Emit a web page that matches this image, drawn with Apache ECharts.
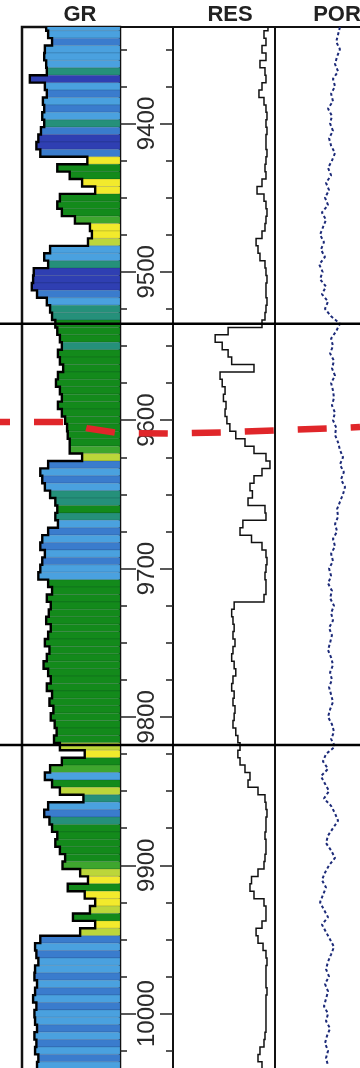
<!DOCTYPE html>
<html>
<head>
<meta charset="utf-8">
<script src="https://cdn.jsdelivr.net/npm/echarts@6.0.0/dist/echarts.min.js"></script>
<style>
  html, body, #main {
    width: 360px;
    height: 1068px;
    margin: 0;
    background: #fff;
  }
</style>
</head>
<body>
<div id="main"></div>
<script>
// log samples every 5 ft
var depthStart = 9335
var depthStep = 5
var depthMin = 9335
var depthMax = 10038

var grValues = [
  113, 110, 104, 115, 116, 113, 112, 138, 115, 112,
  118, 116, 119, 116, 121, 125, 128, 122, 50, 96,
  77, 58, 38, 92, 96, 89, 69, 46, 43, 49,
  107, 116, 110, 132, 133, 135, 127, 112, 107, 104,
  99, 96, 92, 89, 95, 92, 87, 95, 98, 92,
  89, 95, 89, 84, 81, 80, 77, 77, 58, 110,
  122, 119, 115, 107, 99, 96, 99, 95, 110, 119,
  122, 115, 119, 122, 125, 110, 104, 112, 106, 109,
  113, 106, 110, 115, 108, 112, 117, 110, 106, 112,
  104, 108, 102, 106, 100, 97, 101, 92, 54, 89,
  107, 115, 104, 92, 56, 110, 116, 108, 104, 96,
  99, 92, 84, 88, 61, 49, 80, 54, 38, 46,
  72, 38, 61, 122, 130, 128, 125, 130, 131, 127,
  130, 133, 128, 131, 130, 127, 131, 128, 130, 125,
  127
]

// fill colour class per sample: 0 dark blue, 1 blue, 2 light blue, 3 teal,
// 4 green, 5 light green, 6 yellow-green, 7 yellow
var grClass = [
  2, 2, 1, 2, 2, 2, 3, 0, 2, 1,
  2, 1, 2, 3, 1, 0, 0, 1, 7, 4,
  4, 7, 7, 4, 4, 4, 5, 7, 7, 6,
  2, 2, 3, 0, 0, 0, 1, 2, 3, 3,
  4, 4, 4, 3, 4, 4, 4, 4, 4, 4,
  4, 4, 4, 4, 4, 4, 4, 5, 6, 1,
  2, 1, 2, 3, 3, 4, 3, 2, 1, 2,
  1, 2, 1, 2, 2, 4, 4, 4, 4, 4,
  4, 4, 4, 4, 4, 4, 4, 4, 4, 4,
  4, 4, 4, 4, 4, 4, 4, 6, 7, 4,
  5, 2, 4, 6, 3, 2, 1, 3, 4, 4,
  4, 4, 4, 5, 6, 7, 4, 7, 7, 6,
  4, 7, 6, 1, 2, 1, 2, 2, 1, 2,
  1, 2, 1, 2, 2, 1, 2, 1, 2, 1,
  2
]
var classColors = ['#2f3fb2', '#3a7ccd', '#4aa1df', '#25907a', '#138a1b', '#3ea62e', '#bcd63a', '#f2ea2c']

var resValues = [
  1060, 740, 886, 618, 886, 515, 810, 886, 618, 470,
  740, 886, 970, 886, 970, 886, 886, 970, 886, 810,
  886, 618, 395, 740, 886, 970, 886, 810, 618, 362,
  431, 515, 810, 886, 970, 886, 886, 970, 886, 810,
  618, 29, 9, 17, 29, 40, 300, 14, 17, 22,
  19, 24, 22, 26, 34, 58, 133, 300, 886, 1270,
  618, 300, 209, 260, 175, 810, 886, 110, 85, 240,
  618, 886, 970, 886, 810, 886, 886, 740, 50, 40,
  45, 50, 45, 54, 45, 40, 50, 58, 45, 40,
  50, 45, 54, 50, 45, 58, 70, 85, 70, 85,
  133, 209, 175, 431, 810, 886, 970, 886, 886, 810,
  886, 886, 810, 740, 431, 240, 209, 300, 740, 886,
  886, 618, 362, 431, 680, 886, 970, 886, 886, 886,
  970, 886, 886, 886, 886, 886, 810, 740, 515, 431,
  618
]

var porValues = [
  0.068, 0.079, 0.09, 0.068, 0.085, 0.097, 0.079, 0.109, 0.097, 0.12,
  0.109, 0.138, 0.115, 0.126, 0.109, 0.132, 0.12, 0.097, 0.115, 0.138,
  0.12, 0.15, 0.132, 0.156, 0.138, 0.174, 0.15, 0.168, 0.185, 0.162,
  0.18, 0.156, 0.19, 0.17, 0.185, 0.15, 0.174, 0.138, 0.156, 0.12,
  0.068, 0.09, 0.12, 0.109, 0.126, 0.103, 0.115, 0.097, 0.12, 0.109,
  0.103, 0.115, 0.097, 0.109, 0.09, 0.097, 0.079, 0.068, 0.05, 0.068,
  0.045, 0.062, 0.038, 0.05, 0.068, 0.085, 0.079, 0.097, 0.085, 0.109,
  0.097, 0.12, 0.109, 0.132, 0.12, 0.138, 0.115, 0.126, 0.103, 0.12,
  0.109, 0.132, 0.115, 0.126, 0.138, 0.12, 0.109, 0.126, 0.115, 0.132,
  0.12, 0.109, 0.126, 0.138, 0.115, 0.103, 0.12, 0.097, 0.15, 0.168,
  0.138, 0.18, 0.156, 0.132, 0.162, 0.12, 0.097, 0.079, 0.109, 0.138,
  0.15, 0.12, 0.097, 0.132, 0.156, 0.174, 0.15, 0.168, 0.185, 0.162,
  0.138, 0.174, 0.15, 0.126, 0.103, 0.12, 0.138, 0.15, 0.132, 0.156,
  0.138, 0.15, 0.162, 0.138, 0.15, 0.126, 0.144, 0.156, 0.138, 0.15,
  0.138
]

var depthLabels = [9400, 9500, 9600, 9700, 9800, 9900, 10000]
var minorDepthTicks = [
  9350, 9375, 9425, 9450, 9475, 9525, 9550, 9575, 9625, 9650, 9675,
  9725, 9750, 9775, 9825, 9850, 9875, 9925, 9950, 9975, 10025
]
var zoneTops = [9535, 9819]

// red correlation pick, across the whole panel (x in page px units)
var pickX = [0, 65, 87, 117, 170, 223, 277, 330, 360]
var pickDepth = [9601.3, 9601.3, 9605.4, 9608.6, 9609, 9608.2, 9606.8, 9605.5, 9604.6]

var trackTitles = ['GR', 'RES', 'POR']
var titleX = [80, 230, 337]

var depths = grValues.map(function (v, i) { return depthStart + i * depthStep })
function pairs(vals) { return vals.map(function (v, i) { return [v, depths[i]] }) }

function grFill(params, api) {
  var g = api.value(0), d = api.value(1)
  var a = api.coord([g, d - depthStep / 2])
  var b = api.coord([0, d + depthStep / 2])
  var c = classColors[grClass[params.dataIndex]]
  return {
    type: 'rect',
    shape: { x: a[0], y: a[1], width: b[0] - a[0], height: b[1] - a[1] },
    style: { fill: c, stroke: 'rgba(0,20,40,0.22)', lineWidth: 0.6 }
  }
}

// staircase curve, drawn once for the whole log
function stepCurve(values, color, width) {
  return function (params, api) {
    if (params.dataIndex !== 0) return null
    var pts = []
    values.forEach(function (v, i) {
      pts.push(api.coord([v, depths[i] - depthStep / 2]))
      pts.push(api.coord([v, depths[i] + depthStep / 2]))
    })
    return {
      type: 'polyline',
      shape: { points: pts },
      style: { stroke: color, lineWidth: width, fill: null, lineJoin: 'miter' }
    }
  }
}

var gridBase = { top: 27, height: 1043, show: true, borderColor: '#111', borderWidth: 2, outerBoundsMode: 'none', containLabel: false }
function depthAxis(grid, extra) {
  return Object.assign({
    type: 'value', gridIndex: grid, min: depthMin, max: depthMax, inverse: true, show: false,
    splitLine: { show: false }
  }, extra || {})
}
var tickStyle = { color: '#222', width: 1.5 }

var chart = echarts.init(document.getElementById('main'), null, { renderer: 'canvas' })
var option = {
  animation: false,
  backgroundColor: '#fff',
  graphic: trackTitles.map(function (t, i) {
    return {
      type: 'text', x: titleX[i], y: 15,
      style: { text: t, fontSize: 22, fontWeight: 'bold', fontFamily: 'Liberation Sans', fill: '#222', textAlign: 'center', textVerticalAlign: 'middle' }
    }
  }),
  grid: [
    Object.assign({}, gridBase, { left: 22, width: 98, borderWidth: 2.5 }),
    Object.assign({}, gridBase, { left: 120, width: 53 }),
    Object.assign({}, gridBase, { left: 173, width: 102 }),
    Object.assign({}, gridBase, { left: 275, width: 102 }),
    Object.assign({}, gridBase, { left: 0, width: 360, show: false })
  ],
  xAxis: [
    { type: 'value', gridIndex: 0, min: 0, max: 150, inverse: true, show: false },
    { type: 'value', gridIndex: 1, min: 0, max: 1, show: false },
    { type: 'log', gridIndex: 2, min: 0.2, max: 2000, logBase: 10, show: false },
    { type: 'value', gridIndex: 3, min: -0.15, max: 0.45, inverse: true, show: false },
    { type: 'value', gridIndex: 4, min: 0, max: 360, show: false }
  ],
  yAxis: [
    depthAxis(0),
    depthAxis(1, {
      show: true, position: 'left',
      axisLine: { show: false },
      axisTick: { show: true, inside: true, length: 16, customValues: depthLabels, lineStyle: tickStyle },
      axisLabel: {
        show: true, inside: true, customValues: depthLabels, rotate: 90, margin: 27,
        align: 'center', verticalAlign: 'middle',
        formatter: function (v) { return String(v) },
        fontSize: 24, fontFamily: 'Liberation Sans', color: '#2a2a2a'
      }
    }),
    depthAxis(1, {
      show: true, position: 'left',
      axisLine: { show: false },
      axisTick: { show: true, inside: true, length: 7, customValues: minorDepthTicks, lineStyle: tickStyle },
      axisLabel: { show: false }
    }),
    depthAxis(1, {
      show: true, position: 'right',
      axisLine: { show: false },
      axisTick: { show: true, inside: true, length: 13, customValues: depthLabels, lineStyle: tickStyle },
      axisLabel: { show: false }
    }),
    depthAxis(1, {
      show: true, position: 'right',
      axisLine: { show: false },
      axisTick: { show: true, inside: true, length: 7, customValues: minorDepthTicks, lineStyle: tickStyle },
      axisLabel: { show: false }
    }),
    depthAxis(2),
    depthAxis(3),
    depthAxis(4)
  ],
  series: [
    {
      type: 'custom', name: 'GR fill', xAxisIndex: 0, yAxisIndex: 0, clip: true,
      data: pairs(grValues), renderItem: grFill, z: 2
    },
    {
      type: 'custom', name: 'GR', xAxisIndex: 0, yAxisIndex: 0, clip: true,
      data: pairs(grValues), renderItem: stepCurve(grValues, '#000', 2.4), z: 3
    },
    {
      type: 'custom', name: 'RES', xAxisIndex: 2, yAxisIndex: 5, clip: true,
      data: pairs(resValues), renderItem: stepCurve(resValues, '#111', 1.5), z: 3
    },
    {
      type: 'line', name: 'POR', xAxisIndex: 3, yAxisIndex: 6, clip: true,
      data: pairs(porValues), showSymbol: false,
      lineStyle: { color: '#1c2a78', width: 2, type: [3, 2.5] }, z: 3
    }
  ].concat(zoneTops.map(function (z) {
    return {
      type: 'line', xAxisIndex: 4, yAxisIndex: 7, showSymbol: false,
      data: [[0, z], [360, z]],
      lineStyle: { color: '#000', width: 2.5 }, z: 5
    }
  })).concat([{
    type: 'line', name: 'pick', xAxisIndex: 4, yAxisIndex: 7, showSymbol: false,
    data: pickX.map(function (x, i) { return [x, pickDepth[i]] }),
    lineStyle: { color: '#e0262a', width: 6.5, type: [29, 24], dashOffset: 19, cap: 'butt' }, z: 10
  }])
}
chart.setOption(option)
</script>
</body>
</html>
